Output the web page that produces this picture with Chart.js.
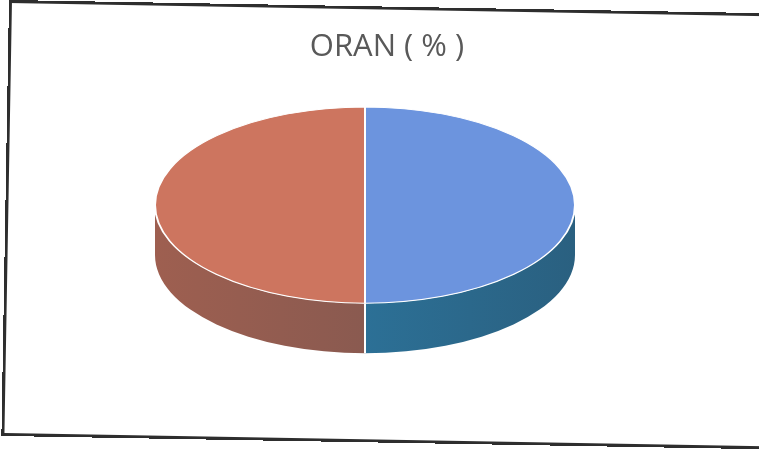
<!DOCTYPE html>
<html>
<head>
<meta charset="utf-8">
<script src="https://cdn.jsdelivr.net/npm/chart.js@4.4.1/dist/chart.umd.min.js"></script>
<style>
  html, body { margin: 0; padding: 0; background: #fff; }
  #wrap { position: relative; width: 759px; height: 450px; overflow: hidden; }
  /* scanned sheet: the frame sits a little crooked */
  #frame {
    position: absolute; left: 9px; top: 0px; width: 800px; height: 430px;
    border: 3px solid #2e2e2e; border-right: none;
    transform: rotate(1deg); transform-origin: 0 0;
  }
</style>
</head>
<body>
<div id="wrap">
  <canvas id="myChart"></canvas>
  <div id="frame"></div>
</div>
<script>
const labels = ['Dilim 1', 'Dilim 2'];
const oran = [50, 50];
const topColors = ['#6c94de', '#cd755f'];
// wall colours, [at start angle, at end angle]
const sideColors = [['#2a6080', '#2c7096'], ['#8a5a50', '#9e5f50']];

// squash the pie into an ellipse and give it a wall, so it looks like the 3D pie in excel
const pie3d = {
  id: 'pie3d',
  beforeDatasetsDraw(chart, args, opts) {
    const ctx = chart.ctx;
    const arcs = chart.getDatasetMeta(0).data;
    if (!arcs.length) return;
    const { x, y, outerRadius: r } = arcs[0];
    const k = opts.tilt;
    const d = opts.depth / k;
    ctx.save();
    ctx.translate(x + opts.shiftX, y);
    ctx.scale(1, k);
    ctx.translate(-x, -y);

    arcs.forEach((arc, i) => {
      for (let s = -2; s <= 2; s++) {
        const lo = Math.max(arc.startAngle, s * 2 * Math.PI);
        const hi = Math.min(arc.endAngle, s * 2 * Math.PI + Math.PI);
        if (hi <= lo) continue;
        const g = ctx.createLinearGradient(x + r * Math.cos(lo), 0, x + r * Math.cos(hi) + 0.01, 0);
        g.addColorStop(0, sideColors[i][0]);
        g.addColorStop(1, sideColors[i][1]);
        ctx.beginPath();
        ctx.arc(x, y, r, lo, hi);
        ctx.arc(x, y + d, r, hi, lo, true);
        ctx.closePath();
        ctx.fillStyle = g;
        ctx.fill();
      }
    });

    // white seam on the wall where two slices meet
    ctx.strokeStyle = '#ffffff';
    ctx.lineWidth = 2;
    arcs.forEach(arc => {
      let a = arc.startAngle % (2 * Math.PI);
      if (a < 0) a += 2 * Math.PI;
      if (a > 0 && a < Math.PI) {
        const px = x + r * Math.cos(a);
        const py = y + r * Math.sin(a);
        ctx.beginPath();
        ctx.moveTo(px, py);
        ctx.lineTo(px, py + d);
        ctx.stroke();
      }
    });
  },
  afterDatasetsDraw(chart) {
    chart.ctx.restore();
  }
};

const ctx = document.getElementById('myChart');
new Chart(ctx, {
  type: 'pie',
  data: {
    labels: labels,
    datasets: [{
      data: oran,
      backgroundColor: topColors,
      borderColor: '#ffffff',
      borderWidth: 2,
      radius: 210,
      clip: 2000
    }]
  },
  options: {
    responsive: true,
    maintainAspectRatio: false,
    animation: false,
    events: [],
    layout: {
      padding: { left: 15, right: 0, top: 0, bottom: 116 }
    },
    plugins: {
      legend: { display: false },
      tooltip: { enabled: false },
      title: {
        display: true,
        text: 'ORAN ( % )',
        color: '#595959',
        font: { family: 'Open Sans', size: 31, weight: 'normal' },
        padding: { top: 29, bottom: 10 }
      },
      pie3d: { tilt: 0.467, depth: 50, shiftX: -22 }
    }
  },
  plugins: [pie3d]
});
</script>
</body>
</html>
